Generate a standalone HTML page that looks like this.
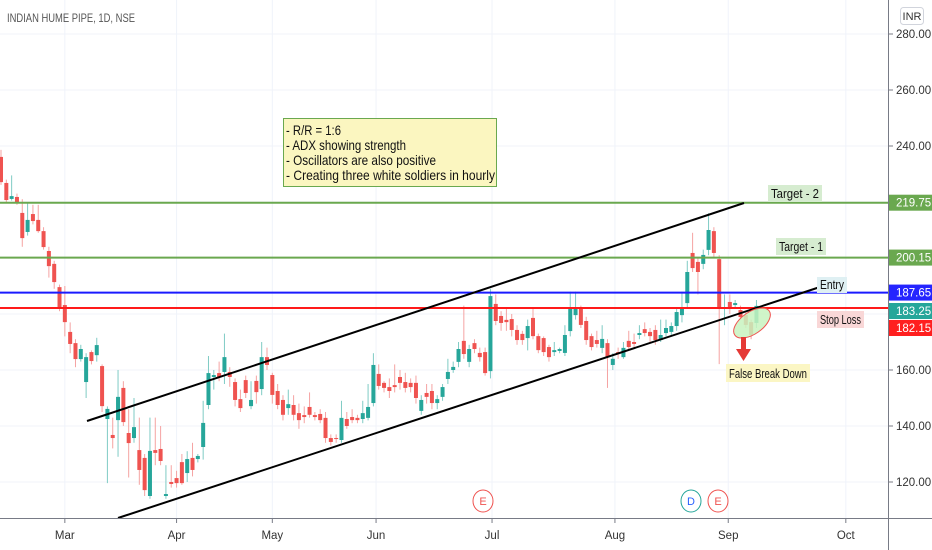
<!DOCTYPE html>
<html><head><meta charset="utf-8">
<style>
html,body{margin:0;padding:0;background:#fff;}
svg{display:block;font-family:"Liberation Sans",sans-serif;}
</style></head>
<body>
<svg id="chart" width="932" height="550" viewBox="0 0 932 550" xmlns="http://www.w3.org/2000/svg">
<rect x="0" y="0" width="932" height="550" fill="#ffffff"/>
<g id="grid"></g>
<g id="candles"></g>
<g id="levels"></g>
<g id="axes"></g>
</svg>
<script>
const opens=[236.1,226.8,221.1,221.8,216.1,209.3,215.7,213.6,209.6,202.5,197.9,189.6,183.2,173.6,169.6,163.9,155.7,166.4,165.3,161.4,142.5,136.8,142.1,153.6,137.5,135.7,131.4,128.6,115,131.4,131.8,115.0,120,121.4,127.1,123.2,128.6,128.2,132.5,147.5,157.5,158.9,159.3,159.3,155.7,149.6,156.4,147.1,156.1,153.2,164.6,158.2,152.5,149.3,146.4,147.5,144.6,143.9,146.8,143.9,144.3,142.9,135.7,135.7,135,142.5,143.2,142.9,142.5,142.9,148.2,158.6,155.4,153.9,154.6,157.5,155.7,155.4,155.4,145.4,151.8,152.5,148.2,150.4,156.8,160,162.9,170.4,162.9,169.6,166.1,166.4,159.6,183.6,179.3,177.9,178.2,174.3,172.9,171.4,178.6,172.1,171.4,168.2,166.4,166.8,166.1,173.9,179.6,181.8,177.5,172.1,170.7,167.9,169.6,161.8,166.4,164.6,170.4,170,172.5,174.6,173.6,174.3,170.7,173.2,173.6,175.7,179.6,183.9,201.8,198.6,197.9,202.9,209.6,199.6,182.1,184.3,183.2,181.4,179.6,177.1,176.8];
const highs=[238.6,228,229.5,223,221,219.6,219,219,211,204,199,190.5,190,177,171,169,166,167,171.5,162,147,143,160,156,146,150,143,130,143,143,140,126,126,124,130,131,134,130,149,165,160,163,173,161,157,153,158,156,158,170,168,159,155,151,153,151,148,147,152,145,146,145,137,137,149,145,146,144,149,155,166,162,156,157,162,160,159,157,158,151,155,155,151,155,164,163,170,183,169,171,168,168,189,187,181,182,180,176,174,178,182,173,172,169,170,168,176,188,188,183,179,173,174,176,171,166,168,170,174,173,176,177,175,176,178,178,177,182,188,199,209,200,203,216,211,201,187,187,185,183,181,178,185];
const lows=[226.1,220,220.5,219,204,208,212,209,203,193,189,181,172,166,161,163,150,162,163,145,119.6,132,129,140,121.6,134,119,115,114,126,126,114,118,118,119,120,122,127,128,146,153,156,155,154,147,145,150,146,148,151,160,148,146,142,144,142,139,141,143,142,141,134,133,134,134,139,141,141,141,142,147,153,152,150,152,153,152,152,148,144,148,146,146,149,155,159,161,164,161,166,163,158,157,176,174,174,172,169,169,167,171,166,165,163,165,166,165,172,178,175,169,167,168,166,153.6,160,164,164,167,168,171,172,170,169,170,172,172,174,177,182,195,187,196,201,200,162.1,176,180,182,178,175,171,175];
const closes=[227.1,220.7,222.1,219.6,207.1,213.6,213.2,209.6,203.9,197.1,191.4,182.1,177.1,169.3,163.9,167.5,164.6,163.2,168.9,147.1,146.1,135.7,150.4,141.4,133.9,139.6,124.3,117.1,131.1,130.4,127.5,115.7,119.3,119.6,119.6,128.2,124.3,129.3,141.1,158.9,158.2,157.5,164.6,157.5,149.3,146.4,151.8,149.3,152.1,164.6,161.8,151.1,147.5,144,147.8,144,142.1,143.2,144,143.2,142.1,135.7,134.3,135.4,142.9,140,142.1,142.1,144.6,146.8,161.8,154.3,153.6,152.5,153.9,155.4,153.6,153.9,150,149.3,150.4,148.2,149.6,153.9,159.3,161.1,167.5,165.7,167.5,167.5,164.6,158.9,186.4,177.5,176.8,177.1,174.3,170.7,170.7,175.7,172.1,167.1,166.4,164.6,167.1,167.5,172.5,181.8,181.8,176.1,170.7,168.2,169.3,171.1,164.6,164,165.7,167.9,168.2,169.3,173.2,173.2,172.1,170.7,172.5,175,175.7,180.7,182.5,195,196.4,195,201.1,210,201.8,182.1,182.5,182.5,183.9,178.9,176.1,172.5,182.9];
const priceTicks=[280,260,240,160,140,120];
const monthLabels=["Mar","Apr","May","Jun","Jul","Aug","Sep","Oct"];
const monthIdx=[12,33,51,70.5,92.3,115.4,136.7,158.8];
const gridPrices=[280,260,240,220,200,180,160,140,120];

const NS="http://www.w3.org/2000/svg";
const plotRight=888;
function y(p){return 482-(p-120)*2.8;}
function x(i){return 1+i*5.32;}
function mk(tag,attrs,parent,text){const e=document.createElementNS(NS,tag);for(const k in attrs)e.setAttribute(k,attrs[k]);if(text!==undefined)e.textContent=text;parent.appendChild(e);return e;}
const grid=document.getElementById('grid'),cg=document.getElementById('candles'),lv=document.getElementById('levels'),ax=document.getElementById('axes');

gridPrices.forEach(p=>{const l=mk('line',{x1:0,x2:plotRight,y1:y(p),y2:y(p),stroke:'#f0f3fa','stroke-width':1},grid);

});
monthIdx.forEach(i=>{const l=mk('line',{x1:x(i),x2:x(i),y1:0,y2:518,stroke:'#f0f3fa','stroke-width':1},grid);

});

for(let i=0;i<opens.length;i++){
  const up=closes[i]>=opens[i];const col=up?'#26a69a':'#ef5350';const wc=up?'#7fcbc4':'#f5a3a2';
  const cx=x(i);
  const w=mk('line',{x1:cx,x2:cx,y1:y(highs[i]),y2:y(lows[i]),stroke:wc,'stroke-width':1},cg);
  
  
  const top=y(Math.max(opens[i],closes[i])),bot=y(Math.min(opens[i],closes[i]));
  const b=mk('rect',{x:cx-2,y:top,width:4,height:Math.max(1,bot-top),fill:col},cg);
  
  
}

const levelPrices=[219.75,200.15,187.65,182.15];
const levelColors=['#6aa84f','#6aa84f','#1a1aff','#ff1a1a'];
const levelNames=['target-2-line','target-1-line','entry-line','stop-loss-line'];
levelPrices.forEach((p,k)=>{const l=mk('line',{x1:0,x2:plotRight,y1:y(p),y2:y(p),stroke:levelColors[k],'stroke-width':2},lv);

});

const up=mk('line',{x1:87,y1:421,x2:744,y2:203,stroke:'#000','stroke-width':2},lv);


const lo=mk('line',{x1:118,y1:518,x2:820,y2:287,stroke:'#000','stroke-width':2},lv);



function tag(name,tx,ty,w,h,bg,txt,fs){const g=mk('g',{},lv);


mk('rect',{x:tx,y:ty,width:w,height:h,fill:bg},g);
mk('text',{x:tx+w/2,y:ty+h-4,'text-anchor':'middle','font-size':fs||13,fill:'#111','textLength':w-6,'lengthAdjust':'spacingAndGlyphs'},g,txt);}
tag('target-2-label',768,185,54,17,'#d6ecd0','Target - 2');
tag('target-1-label',776,238,50,17,'#d6ecd0','Target - 1');
tag('entry-label',817,277,30,16,'#dff0f3','Entry');
tag('stop-loss-label',817,311,47,17,'#f9d7d7','Stop Loss');

const el=mk('ellipse',{cx:752,cy:323,rx:21,ry:11,fill:'#c8f3c0','fill-opacity':0.85,stroke:'#ef5350','stroke-width':1,transform:'rotate(-35 752 323)'},lv);


const ar=mk('path',{d:'M741 337 L746 337 L746 349 L751 349 L743.5 361 L736 349 L741 349 Z',fill:'#e53935'},lv);


tag('false-break-down-label',726,364,84,18,'#fbf6c4','False Break Down');

const nb=mk('g',{},lv);


mk('rect',{x:283.5,y:118.5,width:213,height:68,fill:'#fbf6c0',stroke:'#6aa84f','stroke-width':1},nb);
const notes=['- R/R = 1:6','- ADX showing strength','- Oscillators are also positive','- Creating three white soldiers in hourly'];
const noteW=[55,120,150,209];
notes.forEach((t,k)=>{const tx=mk('text',{x:286,y:135+k*15,'font-size':14,fill:'#111',textLength:noteW[k],lengthAdjust:'spacingAndGlyphs'},nb,t);

});

const ti=mk('text',{x:7,y:22,'font-size':12,fill:'#555',textLength:128,lengthAdjust:'spacingAndGlyphs'},ax,'INDIAN HUME PIPE, 1D, NSE');



const pa=mk('line',{x1:888.5,x2:888.5,y1:0,y2:550,stroke:'#787b86','stroke-width':1},ax);


const ta=mk('line',{x1:0,x2:932,y1:518.5,y2:518.5,stroke:'#787b86','stroke-width':1},ax);


priceTicks.forEach(p=>{mk('line',{x1:889,x2:893,y1:y(p),y2:y(p),stroke:'#787b86'},ax);
const t=mk('text',{x:896,y:y(p)+4,'font-size':11.5,fill:'#333'},ax,p.toFixed(2));

});
monthIdx.forEach((i,k)=>{mk('line',{x1:x(i),x2:x(i),y1:519,y2:523,stroke:'#787b86'},ax);
const t=mk('text',{x:x(i),y:539,'font-size':11.5,fill:'#333','text-anchor':'middle'},ax,monthLabels[k]);

});

const badgeVals=[219.75,200.15,187.65,183.25,182.15];
const badgeCols=['#6aa84f','#6aa84f','#2424ff','#26a69a','#ff1f1f'];
badgeVals.forEach((v,k)=>{const g=mk('g',{},ax);


let yy=y(v);if(k===3)yy=311;if(k===4)yy=328;
mk('rect',{x:889,y:yy-8,width:43,height:16,fill:badgeCols[k]},g);
mk('text',{x:896,y:yy+4,'font-size':11.5,fill:'#fff'},g,v.toFixed(2));});

const inr=mk('g',{},ax);


mk('rect',{x:900.5,y:7.5,width:23,height:17,rx:3,fill:'#fff',stroke:'#d1d4dc'},inr);
mk('text',{x:912,y:20,'font-size':11,fill:'#333','text-anchor':'middle'},inr,'INR');

const evs=[[483,'E','#ef5350'],[691,'D','#26a69a'],[718,'E','#ef5350']];
evs.forEach(e=>{const g=mk('g',{},ax);


mk('ellipse',{cx:e[0],cy:501,rx:10,ry:11,fill:'#fff',stroke:e[2]},g);
mk('text',{x:e[0],y:505,'font-size':11,fill:e[1]==='D'?'#2962ff':e[2],'text-anchor':'middle'},g,e[1]);});
</script>
</body></html>
